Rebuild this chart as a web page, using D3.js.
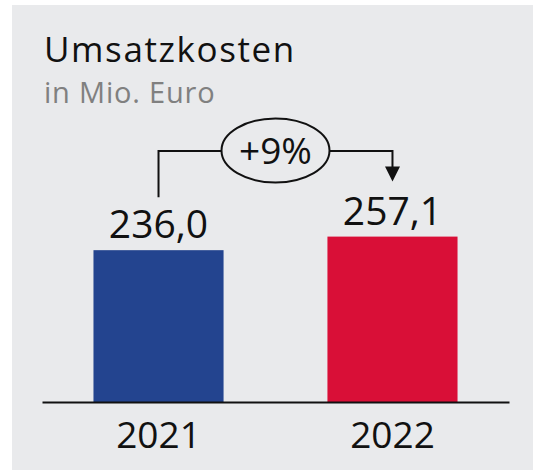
<!DOCTYPE html>
<html>
<head>
<meta charset="utf-8">
<script src="https://cdn.jsdelivr.net/npm/d3@7"></script>
<style>
  html, body { margin: 0; padding: 0; background: #ffffff; }
  svg { display: block; }
</style>
</head>
<body>
<script>
// ---- data ----
const years = ["2021", "2022"];
const values = [236.0, 257.1];
const valueLabels = ["236,0", "257,1"];
const changeLabel = "+9%";
const title = "Umsatzkosten";
const subtitle = "in Mio. Euro";
const barColors = ["#23448f", "#d90f37"];

const W = 533, H = 470;
const font = "'Open Sans', sans-serif";

const svg = d3.select("body").append("svg")
  .attr("width", W).attr("height", H);

// panel
svg.append("rect")
  .attr("x", 12).attr("y", 5)
  .attr("width", W - 12).attr("height", H - 5)
  .attr("fill", "#e9eaec");

// title
svg.append("text")
  .attr("x", 44).attr("y", 62)
  .attr("font-family", font).attr("font-size", 35)
  .attr("letter-spacing", 1.6)
  .attr("fill", "#111").text(title);
svg.append("text")
  .attr("x", 44).attr("y", 103)
  .attr("font-family", font).attr("font-size", 29)
  .attr("letter-spacing", 0.8)
  .attr("fill", "#808080").text(subtitle);

// scales
const x = d3.scaleBand().domain(years).range([42, 509])
  .paddingInner(0.444).paddingOuter(0.22);
const y = d3.scaleLinear().domain([0, 300]).range([402, 209]);

const data = years.map((yr, i) => ({ yr, v: values[i], label: valueLabels[i], color: barColors[i] }));

// bars
svg.selectAll("rect.bar").data(data).enter().append("rect")
  .attr("class", "bar")
  .attr("x", d => x(d.yr))
  .attr("width", x.bandwidth())
  .attr("y", d => y(d.v))
  .attr("height", d => y(0) - y(d.v))
  .attr("fill", d => d.color);

// baseline axis
const axis = d3.axisBottom(x).tickSize(0).tickPadding(0);
const gAxis = svg.append("g").attr("transform", `translate(0,${y(0)})`).call(axis);
gAxis.select(".domain").attr("stroke", "#111").attr("stroke-width", 2);
gAxis.selectAll(".tick text")
  .attr("font-family", font).attr("font-size", 37)
  .attr("fill", "#111")
  .attr("dy", null).attr("y", 46);

// value labels
svg.selectAll("text.val").data(data).enter().append("text")
  .attr("class", "val")
  .attr("x", d => x(d.yr) + x.bandwidth() / 2)
  .attr("y", d => y(d.v) - 12)
  .attr("text-anchor", "middle")
  .attr("font-family", font).attr("font-size", 39)
  .attr("fill", "#111")
  .text(d => d.label);

// change annotation
const cx0 = x(years[0]) + x.bandwidth() / 2;
const cx1 = x(years[1]) + x.bandwidth() / 2;
const top0 = y(values[0]) - 53;
const top1 = y(values[1]) - 55;
const lineY = 151;
const ecx = (cx0 + cx1) / 2, rx = 54, ry = 32;

svg.append("path")
  .attr("d", `M${cx0},${top0} V${lineY} H${ecx - rx}`)
  .attr("fill", "none").attr("stroke", "#111").attr("stroke-width", 2);
svg.append("path")
  .attr("d", `M${ecx + rx},${lineY} H${cx1} V${top1 - 14}`)
  .attr("fill", "none").attr("stroke", "#111").attr("stroke-width", 2);
svg.append("path")
  .attr("d", `M${cx1 - 7.5},${top1 - 15} L${cx1 + 7.5},${top1 - 15} L${cx1},${top1} Z`)
  .attr("fill", "#111");
svg.append("ellipse")
  .attr("cx", ecx).attr("cy", lineY - 0.5)
  .attr("rx", rx).attr("ry", ry)
  .attr("fill", "none").attr("stroke", "#111").attr("stroke-width", 2);
svg.append("text")
  .attr("x", ecx).attr("y", 164)
  .attr("text-anchor", "middle")
  .attr("font-family", font).attr("font-size", 37)
  .attr("fill", "#111").text(changeLabel);
</script>
</body>
</html>
